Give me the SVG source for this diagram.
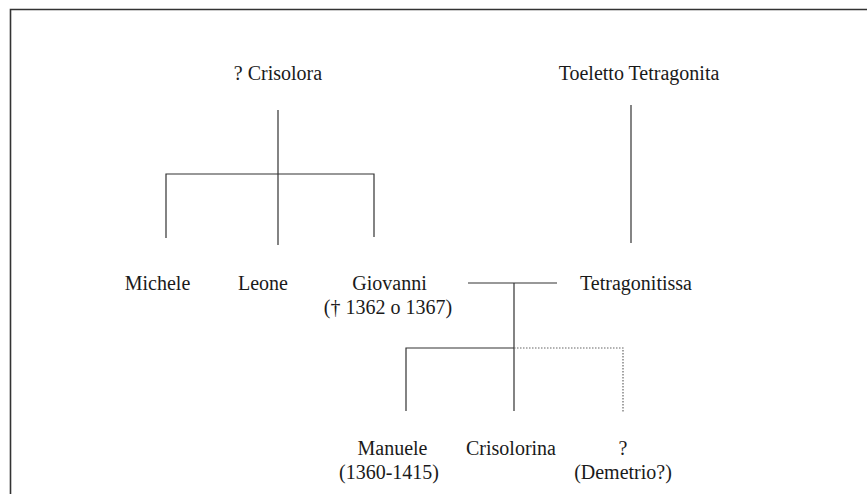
<svg xmlns="http://www.w3.org/2000/svg" width="867" height="494" viewBox="0 0 867 494">
<style>
text{font-family:"Liberation Serif","DejaVu Serif",serif;font-size:20px;fill:#1a1a1a;text-anchor:middle}
.l{stroke:#333;stroke-width:1.2;fill:none}
.d{stroke:#666;stroke-width:1.2;fill:none;stroke-dasharray:1.5 1.5}
</style>
<rect x="0" y="0" width="867" height="494" fill="#fff"/>
<path d="M10.5 494V9.5H867" stroke="#333" stroke-width="1.6" fill="none"/>
<g id="crisolora"><text x="278" y="80">? Crisolora</text></g>
<g id="toeletto"><text x="639" y="80">Toeletto Tetragonita</text></g>
<g id="michele"><text x="157.5" y="290">Michele</text></g>
<g id="leone"><text x="263" y="290">Leone</text></g>
<g id="giovanni"><text x="389.5" y="290">Giovanni</text><text x="388" y="314">(† 1362 o 1367)</text></g>
<g id="tetragonitissa"><text x="636" y="290">Tetragonitissa</text></g>
<g id="manuele"><text x="392.5" y="455">Manuele</text><text x="389" y="479">(1360-1415)</text></g>
<g id="crisolorina"><text x="511" y="455">Crisolorina</text></g>
<g id="demetrio"><text x="623" y="455">?</text><text x="623" y="479">(Demetrio?)</text></g>
<g id="connectors">
<path class="l" d="M278 110V245M166 238V174H374V237"/>
<path class="l" d="M631 105V243"/>
<path class="l" d="M468 283H557M514 283V411"/>
<path class="l" d="M406 411V348H514"/>
<path class="d" d="M514 348H623V413"/>
</g>
</svg>
